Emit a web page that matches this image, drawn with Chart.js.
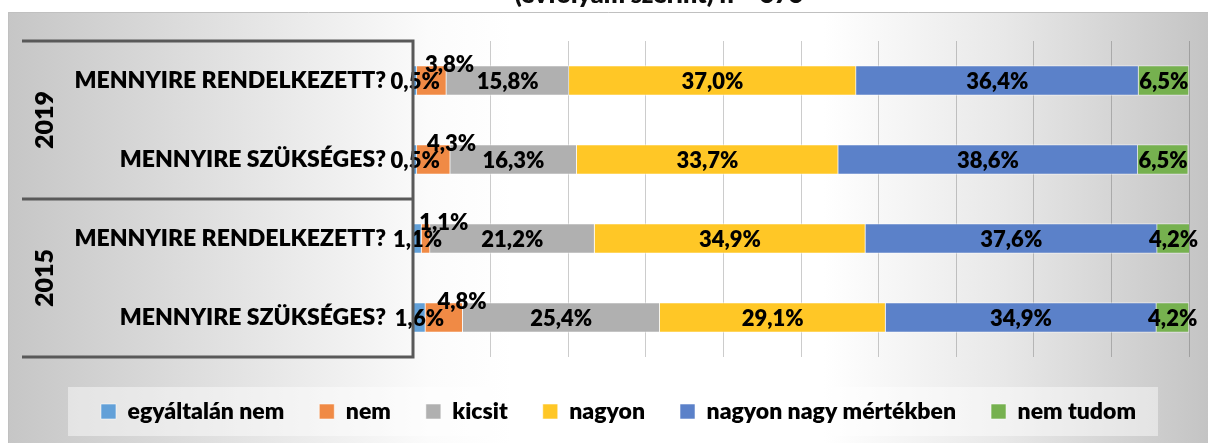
<!DOCTYPE html>
<html><head><meta charset="utf-8">
<script src="https://cdn.jsdelivr.net/npm/chart.js@4.4.1/dist/chart.umd.min.js"></script>
<style>html,body{margin:0;padding:0;background:#fff;overflow:hidden}#wrap{position:relative;width:1208px;height:443px}</style>
</head><body><div id="wrap"><canvas id="c" width="1208" height="443"></canvas></div>
<script>
const titleText = '(évfolyam szerint) n = 373';
const categories = ['MENNYIRE RENDELKEZETT?', 'MENNYIRE SZÜKSÉGES?', 'MENNYIRE RENDELKEZETT?', 'MENNYIRE SZÜKSÉGES?'];
const yearGroups = ['2019', '2015'];
const seriesNames = ['egyáltalán nem', 'nem', 'kicsit', 'nagyon', 'nagyon nagy mértékben', 'nem tudom'];
const egyaltalanNem = [0.5, 0.5, 1.1, 1.6];
const nem = [3.8, 4.3, 1.1, 4.8];
const kicsit = [15.8, 16.3, 21.2, 25.4];
const nagyon = [37.0, 33.7, 34.9, 29.1];
const nagyonNagy = [36.4, 38.6, 37.6, 34.9];
const nemTudom = [6.5, 6.5, 4.2, 4.2];

const colors = ['#62a0d8', '#f08a45', '#b0b0b0', '#ffc726', '#5b81c9', '#76b14f'];
const seriesData = [egyaltalanNem, nem, kicsit, nagyon, nagyonNagy, nemTudom];
const FONT = 'Lato, "Open Sans", sans-serif';
const W = '800';

const bgPlugin = {
  id: 'bg',
  beforeDraw(chart) {
    const ctx = chart.ctx;
    ctx.save();
    ctx.fillStyle = '#ffffff';
    ctx.fillRect(0, 0, 1208, 443);
    const g = ctx.createLinearGradient(8, 0, 1208, 0);
    g.addColorStop(0, '#c6c6c6');
    g.addColorStop(0.12, '#d8d8d8');
    g.addColorStop(0.25, '#ececec');
    g.addColorStop(0.35, '#fbfbfb');
    g.addColorStop(0.42, '#ffffff');
    g.addColorStop(0.68, '#ffffff');
    g.addColorStop(0.83, '#e8e8e8');
    g.addColorStop(1, '#c4c4c4');
    ctx.fillStyle = g;
    ctx.fillRect(8, 12, 1200, 431);
    ctx.strokeStyle = '#c0c0c0';
    ctx.lineWidth = 1;
    ctx.beginPath();
    ctx.moveTo(8.5, 443); ctx.lineTo(8.5, 12.5); ctx.lineTo(1208, 12.5);
    ctx.stroke();
    ctx.fillStyle = 'rgba(255,255,255,0.45)';
    ctx.fillRect(68, 387, 1090, 49);
    ctx.fillStyle = '#0d0d0d';
    ctx.font = W + ' 25px ' + FONT;
    ctx.textAlign = 'center';
    ctx.textBaseline = 'alphabetic';
    ctx.fillText(titleText, 659, 3);
    ctx.restore();
  }
};

const framePlugin = {
  id: 'frame',
  afterDraw(chart) {
    const ctx = chart.ctx;
    const ys = chart.scales.y;
    const area = chart.chartArea;
    const top = area.top, bottom = area.bottom;
    const mid = (ys.getPixelForValue(1) + ys.getPixelForValue(2)) / 2;
    ctx.save();
    ctx.strokeStyle = '#595959';
    ctx.lineWidth = 3;
    ctx.beginPath();
    [top, mid, bottom].forEach(y => { ctx.moveTo(22, y); ctx.lineTo(area.left, y); });
    ctx.moveTo(area.left, top - 1.5); ctx.lineTo(area.left, bottom + 1.5);
    ctx.stroke();
    ctx.fillStyle = '#000';
    ctx.font = W + ' 25px ' + FONT;
    ctx.textAlign = 'center';
    ctx.textBaseline = 'middle';
    const bounds = [top, mid, bottom];
    yearGroups.forEach((yr, i) => {
      const cy = (bounds[i] + bounds[i + 1]) / 2;
      ctx.save();
      ctx.translate(45, cy);
      ctx.rotate(-Math.PI / 2);
      ctx.fillText(yr, 0, 0);
      ctx.restore();
    });
    ctx.restore();
  }
};

const labelPlugin = {
  id: 'vlabels',
  afterDatasetsDraw(chart) {
    const ctx = chart.ctx;
    ctx.save();
    ctx.fillStyle = '#000';
    ctx.font = W + ' 22px ' + FONT;
    ctx.textAlign = 'center';
    ctx.textBaseline = 'middle';
    chart.data.datasets.forEach((ds, di) => {
      const meta = chart.getDatasetMeta(di);
      meta.data.forEach((bar, i) => {
        const v = ds.data[i];
        const txt = v.toFixed(1).replace('.', ',') + '%';
        let x = (bar.x + bar.base) / 2;
        let y = bar.y + 1;
        if (di === 1) { x += 18; y -= 17; }
        ctx.fillText(txt, x, y);
      });
    });
    ctx.restore();
  }
};

const shiftLegend = {
  id: 'shiftLegend',
  afterLayout(chart) {
    if (chart.legend) { chart.legend.left += 24; chart.legend.right += 24; }
  }
};

new Chart(document.getElementById('c'), {
  type: 'bar',
  data: {
    labels: categories,
    datasets: seriesNames.map((name, i) => ({
      label: name,
      data: seriesData[i],
      backgroundColor: colors[i],
      borderColor: 'rgba(255,255,255,0.55)',
      borderWidth: 1,
      barThickness: 30
    }))
  },
  options: {
    indexAxis: 'y',
    responsive: false,
    animation: false,
    devicePixelRatio: 1,
    layout: { padding: { top: 41, left: 0, right: 19, bottom: 10 } },
    scales: {
      x: {
        stacked: true, min: 0, max: 100,
        ticks: { display: false, stepSize: 10 },
        grid: { color: 'rgba(0,0,0,0.2)', lineWidth: 1, drawTicks: false },
        border: { display: false },
        afterFit(s) { s.height = 8; }
      },
      y: {
        stacked: true,
        ticks: { color: '#000', font: { family: FONT, size: 23, weight: W }, padding: 27, autoSkip: false },
        grid: { display: false, drawTicks: false },
        border: { display: false },
        afterFit(s) { s.width = 413; }
      }
    },
    plugins: {
      legend: {
        position: 'bottom',
        labels: { boxWidth: 15, boxHeight: 15, padding: 35, color: '#000', font: { family: FONT, size: 23, weight: W } }
      },
      tooltip: { enabled: false },
      title: { display: false }
    }
  },
  plugins: [bgPlugin, framePlugin, labelPlugin, shiftLegend]
});
</script>
</body></html>
